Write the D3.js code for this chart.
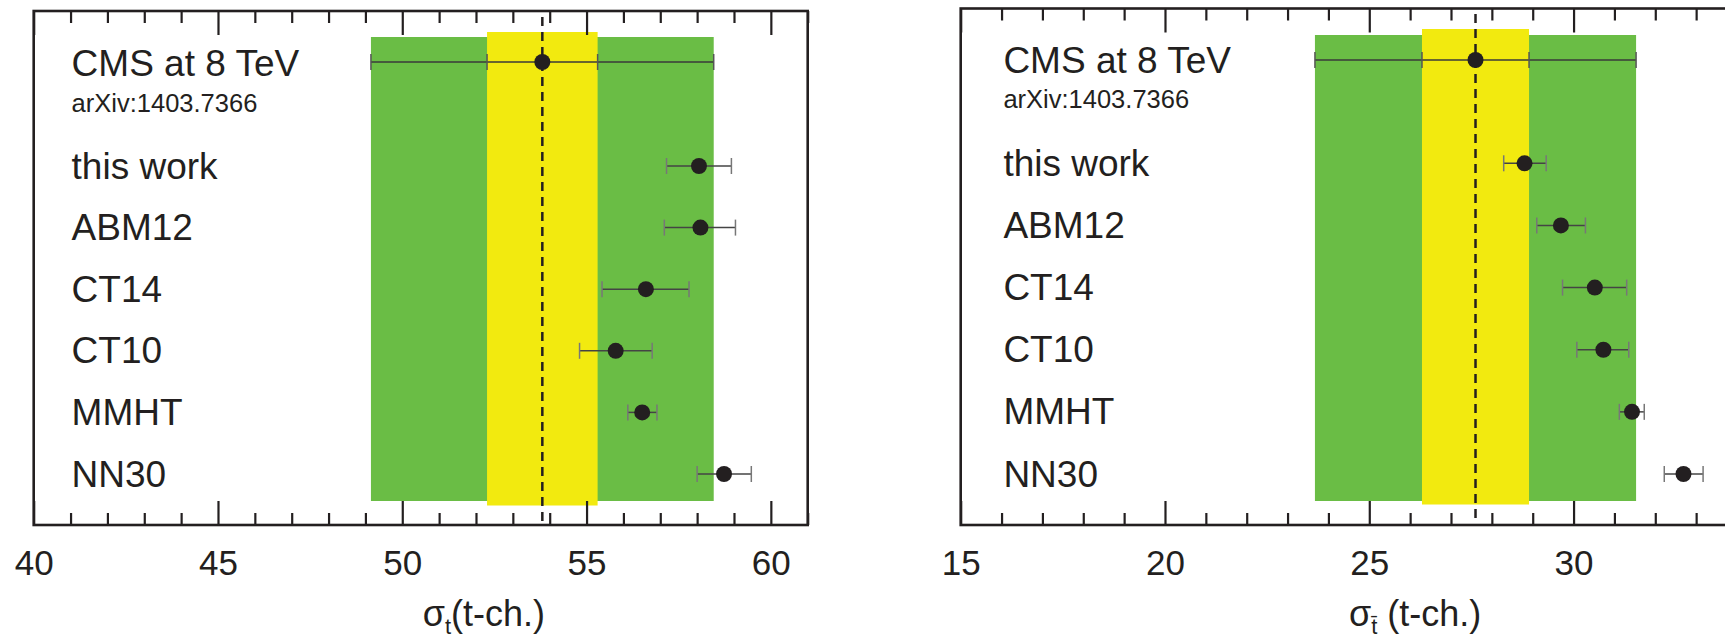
<!DOCTYPE html>
<html><head><meta charset="utf-8">
<script src="https://cdn.jsdelivr.net/npm/d3@7"></script>
<style>body{margin:0;background:#fff}svg{display:block}</style>
</head><body>
<svg id="c" width="1725" height="638"></svg>
<script>
// ---- data ----
const models = ["this work", "ABM12", "CT14", "CT10", "MMHT", "NN30"];
// sigma_t (t-channel), pb
const tCentral = [58.05, 58.09, 56.61, 55.79, 56.51, 58.73];
const tLow     = [57.17, 57.11, 55.42, 54.81, 56.12, 58.00];
const tHigh    = [58.93, 59.04, 57.78, 56.78, 56.91, 59.47];
// sigma_tbar (t-channel), pb
const tbarCentral = [28.80, 29.69, 30.52, 30.73, 31.43, 32.69];
const tbarLow     = [28.29, 29.10, 29.73, 30.08, 31.12, 32.22];
const tbarHigh    = [29.33, 30.29, 31.30, 31.35, 31.73, 33.17];
// CMS at 8 TeV measurement: [t, tbar]
const cmsCentral = [53.8, 27.6];
const cmsStat    = [1.5, 1.31];
const cmsTotal   = [4.65, 3.93];
const tickLabelsT = [40, 45, 50, 55, 60];
const tickLabelsTbar = [15, 20, 25, 30];
const headerTitle = "CMS at 8 TeV";
const headerRef = "arXiv:1403.7366";

// ---- layout ----
const svg = d3.select("#c");
const FONT = "'Liberation Sans', Arial, Helvetica, sans-serif";
const INK = "#231f20";
const GREEN = "#6abd45", YELLOW = "#f2ea0f";

const panels = [
  {domain:[40,61], range:[33.7,807.7], top:11, bottom:525, rowRange:[166,474], cmsY:62,
   labelX:71.6, titleY:76, refY:111.7, green:[37,501], yellow:[32,505.5], dashTop:17,
   central:tCentral, low:tLow, high:tHigh, cms:0, ticks:tickLabelsT,
   axisTitleX:422.7, axisSub:"t", axisRest:"(t-ch.)"},
  {domain:[15,34], range:[960.7,1737], top:8.5, bottom:525, rowRange:[163.3,474], cmsY:60,
   labelX:1003.4, titleY:72.7, refY:108.3, green:[35,501], yellow:[29,504.5], dashTop:14,
   central:tbarCentral, low:tbarLow, high:tbarHigh, cms:1, ticks:tickLabelsTbar,
   axisTitleX:1349, axisSub:"t\u0304", axisRest:" (t-ch.)"}
];

panels.forEach(p => {
  const g = svg.append("g");
  const x = d3.scaleLinear().domain(p.domain).range(p.range);
  const y = d3.scalePoint().domain(models).range(p.rowRange);
  const c = cmsCentral[p.cms], s = cmsStat[p.cms], t = cmsTotal[p.cms];

  // bands
  g.append("rect").attr("x", x(c - t)).attr("width", x(c + t) - x(c - t))
    .attr("y", p.green[0]).attr("height", p.green[1] - p.green[0]).attr("fill", GREEN);
  g.append("rect").attr("x", x(c - s)).attr("width", x(c + s) - x(c - s))
    .attr("y", p.yellow[0]).attr("height", p.yellow[1] - p.yellow[0]).attr("fill", YELLOW);
  // dashed central line
  g.append("line").attr("x1", x(c)).attr("x2", x(c)).attr("y1", p.dashTop).attr("y2", p.bottom)
    .attr("stroke", INK).attr("stroke-width", 2.5).attr("stroke-dasharray", "9,6");

  // axes ticks
  const [d0, d1] = p.domain;
  const minor = d3.range(Math.ceil(d0), d1 + 0.001, 1).filter(v => v % 5 !== 0);
  const major = d3.range(Math.ceil(d0 / 5) * 5, d1 + 0.001, 5);
  const addAxis = (axisFn, vals, size, ty) => {
    const a = g.append("g").attr("transform", `translate(0,${ty})`)
      .call(axisFn(x).tickValues(vals).tickSize(size).tickFormat(""));
    a.select(".domain").remove();
    a.selectAll("line").attr("stroke", INK).attr("stroke-width", 2.2);
  };
  addAxis(d3.axisBottom, minor, -12, p.bottom);
  addAxis(d3.axisBottom, major, -24, p.bottom);
  addAxis(d3.axisTop, minor, -12, p.top);
  addAxis(d3.axisTop, major, -24, p.top);
  // tick labels
  const lab = g.append("g").attr("transform", `translate(0,${p.bottom})`)
    .call(d3.axisBottom(x).tickValues(p.ticks).tickSize(0).tickPadding(25).tickFormat(d3.format("d")));
  lab.select(".domain").remove();
  lab.selectAll("text").attr("font-family", FONT).attr("font-size", 35).attr("fill", INK);

  // frame
  g.append("rect").attr("x", p.range[0]).attr("y", p.top)
    .attr("width", p.range[1] - p.range[0]).attr("height", p.bottom - p.top)
    .attr("fill", "none").attr("stroke", INK).attr("stroke-width", 2.6);

  // CMS measurement error bar
  g.append("line").attr("x1", x(c - t)).attr("x2", x(c + t)).attr("y1", p.cmsY).attr("y2", p.cmsY)
    .attr("stroke", "#3a3a3a").attr("stroke-width", 1.5);
  [c - t, c - s, c + s, c + t].forEach(v => {
    g.append("line").attr("x1", x(v)).attr("x2", x(v)).attr("y1", p.cmsY - 8).attr("y2", p.cmsY + 8)
      .attr("stroke", "#555").attr("stroke-width", 1.5);
  });
  g.append("circle").attr("cx", x(c)).attr("cy", p.cmsY).attr("r", 8).attr("fill", INK);

  // model predictions
  models.forEach((m, i) => {
    const yy = y(m);
    g.append("line").attr("x1", x(p.low[i])).attr("x2", x(p.high[i])).attr("y1", yy).attr("y2", yy)
      .attr("stroke", "#444").attr("stroke-width", 1.5);
    [p.low[i], p.high[i]].forEach(v => {
      g.append("line").attr("x1", x(v)).attr("x2", x(v)).attr("y1", yy - 8).attr("y2", yy + 8)
        .attr("stroke", "#777").attr("stroke-width", 1.5);
    });
    g.append("circle").attr("cx", x(p.central[i])).attr("cy", yy).attr("r", 8).attr("fill", INK);
    g.append("text").attr("x", p.labelX).attr("y", yy + 12.5).text(m)
      .attr("font-family", FONT).attr("font-size", 37).attr("fill", INK);
  });

  // header texts
  g.append("text").attr("x", p.labelX).attr("y", p.titleY).text(headerTitle)
    .attr("font-family", FONT).attr("font-size", 37).attr("fill", INK);
  g.append("text").attr("x", p.labelX).attr("y", p.refY).text(headerRef)
    .attr("font-family", FONT).attr("font-size", 25.5).attr("fill", INK);

  // axis title
  const at = g.append("text").attr("x", p.axisTitleX).attr("y", 626)
    .attr("font-family", FONT).attr("font-size", 36).attr("fill", INK);
  at.append("tspan").text("\u03c3");
  at.append("tspan").text(p.axisSub).attr("font-size", 22).attr("dy", 8);
  at.append("tspan").text(p.axisRest).attr("dy", -8);
});
</script>
</body></html>
